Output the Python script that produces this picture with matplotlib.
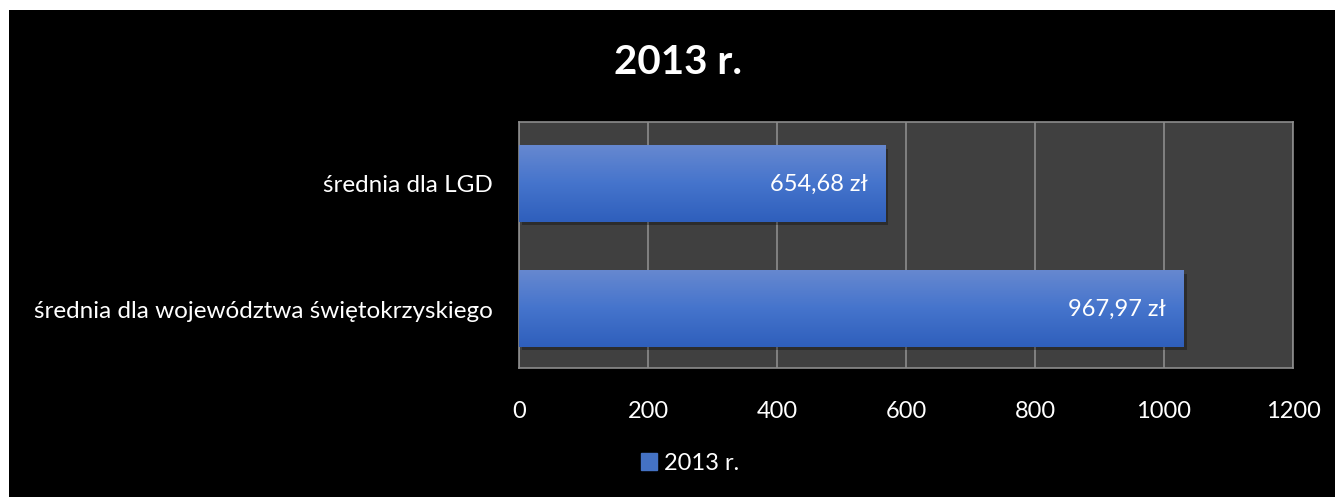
import numpy as np
import matplotlib.pyplot as plt
import matplotlib.patheffects as pe
from matplotlib.patches import Rectangle
from matplotlib.colors import LinearSegmentedColormap

# data (bar lengths as drawn, labels as printed)
categories = ['średnia dla LGD', 'średnia dla województwa świętokrzyskiego']
bar_values = [568, 1031]
value_labels = ['654,68 zł', '967,97 zł']
series_name = '2013 r.'
x_ticks = [0, 200, 400, 600, 800, 1000, 1200]

plt.rcParams['font.family'] = ['Lato', 'DejaVu Sans']

fig = plt.figure(figsize=(13.35, 4.97), dpi=100, facecolor='white')
# black slide background with the thin white strip on top/left
fig.patches.append(Rectangle((9 / 1335, 0), 1, 1 - 10 / 497, transform=fig.transFigure,
                             facecolor='black', edgecolor='none', zorder=-10))

ax = fig.add_axes([519 / 1335, 1 - 368 / 497, 774 / 1335, 246 / 497])
ax.set_facecolor('#404040')

y = np.arange(len(categories))
bars = ax.barh(y, bar_values, height=0.61, color='#4472c4', zorder=3,
               path_effects=[pe.SimplePatchShadow(offset=(2, -2), shadow_rgbFace='black', alpha=0.3),
                             pe.Normal()])

# vertical gradient inside each bar
grad = LinearSegmentedColormap.from_list('g', ['#2f5fbc', '#4574cc', '#6688d0'])
for b in bars:
    x0, y0, w, h = b.get_x(), b.get_y(), b.get_width(), b.get_height()
    ax.imshow(np.linspace(0, 1, 100).reshape(-1, 1), cmap=grad, aspect='auto',
              extent=[x0, x0 + w, y0 + h, y0], origin='lower', zorder=4)

for b, lab in zip(bars, value_labels):
    ax.annotate(lab, (b.get_width(), b.get_y() + b.get_height() / 2),
                xytext=(-13, 0), textcoords='offset points', ha='right', va='center',
                color='white', fontsize=17, zorder=5)

ax.set_xlim(0, 1200)
ax.set_ylim(1.472, -0.496)
ax.set_xticks(x_ticks)
ax.set_xticklabels([str(t) for t in x_ticks])
ax.set_yticks(y)
ax.set_yticklabels(categories)
ax.tick_params(axis='both', length=0, colors='white', labelsize=17)
ax.tick_params(axis='y', labelsize=17.5, pad=19)
ax.tick_params(axis='x', pad=24)
ax.grid(axis='x', color='#8c8c8c', linewidth=1.2, zorder=1)
for s in ax.spines.values():
    s.set_color('#8c8c8c')
    s.set_linewidth(1.2)

fig.text(0.508, 1 - 62 / 497, series_name, ha='center', va='center',
         color='white', fontsize=29, fontweight='bold')

leg = fig.legend([Rectangle((0, 0), 1, 1, color='#4472c4')], [series_name],
                 loc='center', bbox_to_anchor=(690 / 1335, 1 - 463 / 497),
                 frameon=False, fontsize=17, labelcolor='white',
                 handlelength=0.7, handleheight=0.7, handletextpad=0.3)

fig.savefig('out.png', dpi=100, facecolor=fig.get_facecolor())
